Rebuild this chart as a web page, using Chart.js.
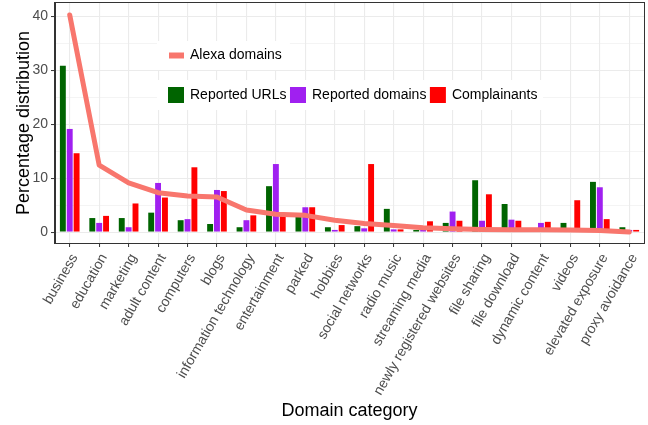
<!DOCTYPE html>
<html>
<head>
<meta charset="utf-8">
<script src="https://cdn.jsdelivr.net/npm/chart.js@4.4.0/dist/chart.umd.min.js"></script>
<style>
  html, body { margin: 0; padding: 0; background: #ffffff; }
  #wrap { width: 648px; height: 425px; position: relative; }
</style>
</head>
<body>
<div id="wrap"><canvas id="c" width="648" height="425"></canvas></div>
<script>
const categories = ['business','education','marketing','adult content','computers','blogs',
  'information technology','entertainment','parked','hobbies','social networks','radio music',
  'streaming media','newly registered websites','file sharing','file download','dynamic content',
  'videos','elevated exposure','proxy avoidance'];
const alexaDomains   = [40.2, 12.4, 9.1, 7.3, 6.7, 6.5, 4.1, 3.3, 3.1, 2.2, 1.6, 1.2, 0.8, 0.6, 0.5, 0.45, 0.43, 0.37, 0.3, 0.0];
const reportedURLs   = [30.8, 2.6, 2.6, 3.6, 2.2, 1.5, 0.9, 8.5, 2.9, 0.9, 1.1, 4.3, 0.4, 1.7, 9.6, 5.2, 0.3, 1.7, 9.3, 0.9];
const reportedDomains= [19.1, 1.7, 0.9, 9.1, 2.4, 7.8, 2.2, 12.6, 4.6, 0.4, 0.7, 0.5, 0.5, 3.8, 2.1, 2.3, 1.7, 0.3, 8.3, 0.4];
const complainants   = [14.6, 3.0, 5.3, 6.4, 12.0, 7.6, 3.1, 3.2, 4.6, 1.3, 12.6, 0.5, 2.0, 2.1, 7.0, 2.1, 1.9, 5.9, 2.4, 0.4];
const yTickValues = [0, 10, 20, 30, 40];

const FONT = "'Liberation Sans', Arial, Helvetica, sans-serif";
Chart.defaults.font.family = FONT;

const COL_LINE = '#F8766D';
const COL_URL = '#006400';
const COL_DOM = '#A020F0';
const COL_CMP = '#FF0000';

const legendPlugin = {
  id: 'ggLegends',
  afterDatasetsDraw(chart) {
    const ctx = chart.ctx;
    const ca = chart.chartArea;
    ctx.save();
    // panel border
    ctx.strokeStyle = '#333333';
    ctx.lineWidth = 1;
    ctx.strokeRect(Math.round(ca.left) - 0.5, Math.round(ca.top) - 0.5,
                   Math.round(ca.right - ca.left) + 1, Math.round(ca.bottom - ca.top) + 1);

    ctx.font = '14px ' + FONT;
    ctx.textBaseline = 'middle';
    ctx.textAlign = 'left';

    // legend 1: Alexa domains
    const x0 = ca.left + 102;
    const y1 = 41, h1 = 29;
    const t1 = 'Alexa domains';
    const w1 = ctx.measureText(t1).width;
    ctx.fillStyle = '#ffffff';
    ctx.fillRect(x0, y1, 12 + 21 + w1 + 8, h1);
    ctx.strokeStyle = COL_LINE;
    ctx.lineWidth = 6;
    ctx.beginPath();
    ctx.moveTo(x0 + 12, y1 + h1 / 2);
    ctx.lineTo(x0 + 27, y1 + h1 / 2);
    ctx.stroke();
    ctx.fillStyle = '#000000';
    ctx.fillText(t1, x0 + 33, y1 + h1 / 2);

    // legend 2: bars
    const y2 = 80, h2 = 30;
    const items = [['Reported URLs', COL_URL], ['Reported domains', COL_DOM], ['Complainants', COL_CMP]];
    let total = 11;
    items.forEach(it => { total += 16 + 6 + ctx.measureText(it[0]).width + 3.5; });
    total += 2;
    ctx.fillStyle = '#ffffff';
    ctx.fillRect(x0, y2, total, h2);
    let x = x0 + 11;
    items.forEach(it => {
      ctx.fillStyle = it[1];
      ctx.fillRect(x, y2 + 7, 16, 16);
      x += 22;
      ctx.fillStyle = '#000000';
      ctx.fillText(it[0], x, y2 + h2 / 2);
      x += ctx.measureText(it[0]).width + 3.5;
    });
    ctx.restore();
  }
};

new Chart(document.getElementById('c'), {
  data: {
    labels: categories,
    datasets: [
      { type: 'line', label: 'Alexa domains', data: alexaDomains, borderColor: COL_LINE,
        backgroundColor: COL_LINE, borderWidth: 5, pointRadius: 0, tension: 0,
        borderCapStyle: 'round', borderJoinStyle: 'round', order: 0 },
      { type: 'bar', label: 'Reported URLs', data: reportedURLs, backgroundColor: COL_URL,
        categoryPercentage: 0.7, barPercentage: 0.86, order: 1 },
      { type: 'bar', label: 'Reported domains', data: reportedDomains, backgroundColor: COL_DOM,
        categoryPercentage: 0.7, barPercentage: 0.86, order: 1 },
      { type: 'bar', label: 'Complainants', data: complainants, backgroundColor: COL_CMP,
        categoryPercentage: 0.7, barPercentage: 0.86, order: 1 }
    ]
  },
  options: {
    responsive: false,
    animation: false,
    devicePixelRatio: 1,
    layout: { padding: { left: 0, right: 4, top: 3, bottom: 0 } },
    plugins: { legend: { display: false }, tooltip: { enabled: false } },
    scales: {
      x: {
        type: 'category',
        offset: true,
        grid: { offset: false, color: '#EBEBEB', lineWidth: 1.1, tickColor: '#333333',
                tickLength: 4, tickWidth: 1, drawTicks: true },
        border: { color: '#333333', width: 1 },
        ticks: { autoSkip: false, maxRotation: 60, minRotation: 60, color: '#4D4D4D',
                 font: { size: 14 }, padding: 4, labelOffset: 5 },
        title: { display: true, text: 'Domain category', color: '#000000',
                 font: { size: 18 }, padding: { top: 0, bottom: 3 } },
        afterFit: s => { s.height = 182; s.paddingLeft = 0; s.paddingRight = 0; }
      },
      y: {
        type: 'linear',
        min: -2.02, max: 42.42,
        grid: { color: '#EBEBEB',
                lineWidth: c => (c.tick && Math.round(c.tick.value) % 10 === 0) ? 1.1 : 0.55,
                tickColor: c => (c.tick && Math.round(c.tick.value) % 10 === 0) ? '#333333' : 'rgba(0,0,0,0)',
                tickLength: 4, tickWidth: 1, drawTicks: true },
        border: { color: '#333333', width: 1 },
        ticks: { stepSize: 5, includeBounds: false, color: '#4D4D4D', font: { size: 14 }, padding: 3,
                 callback: v => yTickValues.includes(Math.round(v)) && Math.abs(v - Math.round(v)) < 1e-6 ? String(Math.round(v)) : '' },
        title: { display: true, text: 'Percentage distribution', color: '#000000',
                 font: { size: 18 }, padding: { top: 13, bottom: 0 } },
        afterFit: s => { s.width = 55; s.paddingTop = 0; s.paddingBottom = 0; }
      }
    }
  },
  plugins: [legendPlugin]
});
</script>
</body>
</html>
